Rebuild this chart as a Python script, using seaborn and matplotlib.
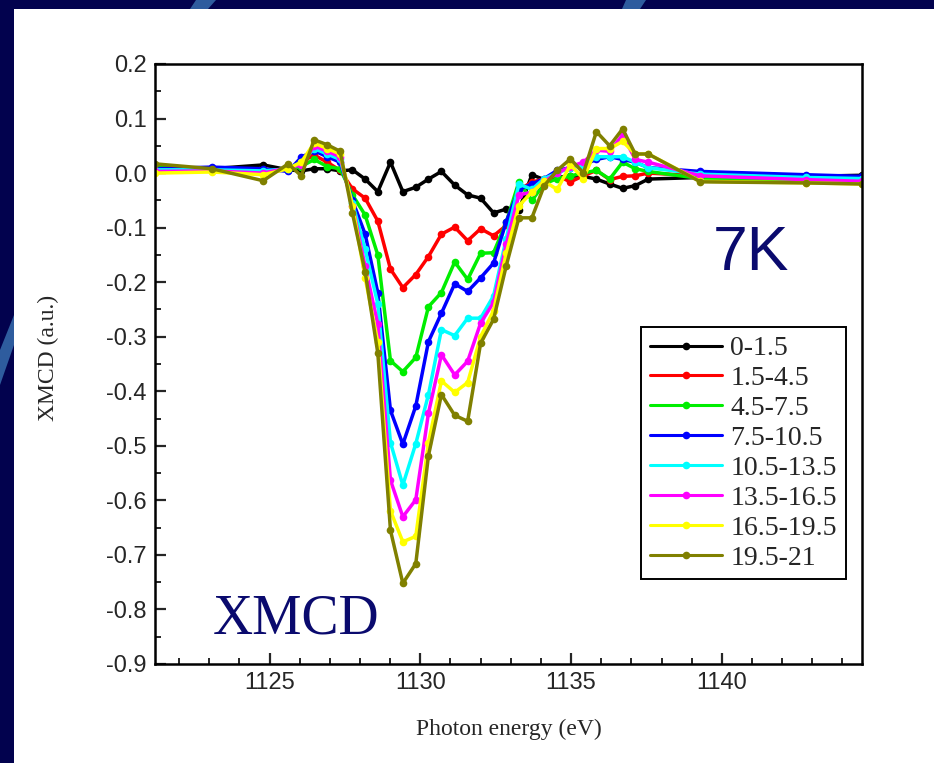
import numpy as np
import pandas as pd
import matplotlib
matplotlib.use("Agg")
import matplotlib.pyplot as plt
import matplotlib.patches as mpatches
from matplotlib.ticker import MultipleLocator
import seaborn as sns

energy = [1121.2, 1123.08, 1124.79, 1125.62, 1126.05, 1126.48, 1126.91, 1127.34, 1127.75, 1128.17,
          1128.59, 1129.01, 1129.42, 1129.85, 1130.27, 1130.70, 1131.14, 1131.57, 1132.00, 1132.43,
          1132.85, 1133.27, 1133.70, 1134.11, 1134.54, 1134.98, 1135.41, 1135.84, 1136.28, 1136.71,
          1137.13, 1137.56, 1139.29, 1142.79, 1144.65]

s_0_1_5 = [0.008, 0.008, 0.015, 0.006, 0.004, 0.008, 0.008, 0.004, 0.006, -0.011,
           -0.034, 0.020, -0.034, -0.026, -0.011, 0.003, -0.022, -0.040, -0.046, -0.073,
           -0.066, -0.068, -0.003, -0.012, -0.008, -0.005, -0.006, -0.011, -0.020, -0.028,
           -0.023, -0.011, -0.008, -0.006, -0.004]
s_1_5_4_5 = [0.005, 0.005, 0.003, 0.006, 0.020, 0.033, 0.020, 0.005, -0.029, -0.046,
             -0.088, -0.176, -0.210, -0.186, -0.153, -0.112, -0.099, -0.124, -0.102, -0.115,
             -0.096, -0.030, -0.017, -0.010, -0.005, -0.016, -0.005, 0.005, -0.012, -0.006,
             -0.005, 0.000, -0.005, -0.012, -0.015]
s_4_5_7_5 = [0.012, 0.008, 0.005, 0.006, 0.012, 0.025, 0.012, 0.008, -0.040, -0.077,
             -0.150, -0.344, -0.364, -0.338, -0.245, -0.219, -0.163, -0.195, -0.147, -0.146,
             -0.090, -0.016, -0.050, -0.020, -0.010, -0.005, 0.000, 0.005, -0.011, 0.020,
             0.008, 0.003, -0.010, -0.015, -0.018]
s_7_5_10_5 = [0.008, 0.011, 0.008, 0.003, 0.029, 0.041, 0.030, 0.020, -0.050, -0.112,
              -0.219, -0.435, -0.497, -0.427, -0.309, -0.257, -0.203, -0.217, -0.192, -0.165,
              -0.089, -0.030, -0.020, -0.010, 0.005, 0.010, 0.015, 0.025, 0.030, 0.025,
              0.020, 0.010, 0.003, -0.003, -0.006]
s_10_5_13_5 = [0.006, 0.006, 0.004, 0.008, 0.020, 0.045, 0.035, 0.025, -0.055, -0.140,
               -0.240, -0.494, -0.572, -0.496, -0.406, -0.287, -0.298, -0.266, -0.266, -0.225,
               -0.120, -0.020, -0.030, -0.010, 0.000, 0.010, 0.015, 0.030, 0.030, 0.030,
               0.020, 0.010, -0.002, -0.008, -0.010]
s_13_5_16_5 = [0.003, 0.004, 0.000, 0.010, 0.015, 0.050, 0.040, 0.030, -0.060, -0.171,
               -0.277, -0.563, -0.630, -0.599, -0.440, -0.333, -0.370, -0.345, -0.275, -0.237,
               -0.130, -0.040, -0.035, -0.015, 0.000, 0.012, 0.020, 0.042, 0.040, 0.070,
               0.025, 0.020, -0.005, -0.012, -0.015]
s_16_5_19_5 = [0.000, 0.002, -0.003, 0.008, 0.020, 0.055, 0.045, 0.035, -0.060, -0.192,
               -0.310, -0.619, -0.676, -0.666, -0.494, -0.381, -0.402, -0.384, -0.300, -0.252,
               -0.147, -0.060, -0.035, -0.015, -0.030, 0.015, -0.010, 0.045, 0.045, 0.058,
               0.035, 0.035, -0.015, -0.018, -0.020]
s_19_5_21 = [0.017, 0.008, -0.014, 0.017, -0.005, 0.061, 0.052, 0.040, -0.074, -0.181,
             -0.330, -0.655, -0.752, -0.716, -0.518, -0.406, -0.444, -0.455, -0.312, -0.268,
             -0.170, -0.082, -0.082, -0.023, 0.005, 0.026, 0.000, 0.076, 0.050, 0.081,
             0.035, 0.035, -0.016, -0.018, -0.020]

labels = ["0-1.5", "1.5-4.5", "4.5-7.5", "7.5-10.5", "10.5-13.5", "13.5-16.5", "16.5-19.5", "19.5-21"]
series = [s_0_1_5, s_1_5_4_5, s_4_5_7_5, s_7_5_10_5, s_10_5_13_5, s_13_5_16_5, s_16_5_19_5, s_19_5_21]
colors = ["#000000", "#FF0000", "#00EE00", "#0000FF", "#00FFFF", "#FF00FF", "#FFFF00", "#808000"]

df = pd.concat([pd.DataFrame({"energy": energy, "xmcd": s, "range": lab})
                for s, lab in zip(series, labels)], ignore_index=True)

sns.set_style("white")
plt.rcParams["font.family"] = ["Liberation Sans", "DejaVu Sans"]

fig = plt.figure(figsize=(9.34, 7.63), dpi=100)
fig.patch.set_facecolor("#02024E")
fig.add_artist(mpatches.Rectangle((14 / 934, 0), 1, 1 - 9 / 763, transform=fig.transFigure,
                                  facecolor="white", edgecolor="none", zorder=-5))
for poly in [[(196, 0), (216, 0), (208, 9), (190, 9)],
             [(626, 0), (646, 0), (640, 9), (622, 9)],
             [(14, 315), (14, 345), (0, 385), (0, 350)]]:
    fig.add_artist(mpatches.Polygon([(x / 934, 1 - y / 763) for x, y in poly], closed=True,
                                    transform=fig.transFigure, facecolor="#2E5C9E",
                                    edgecolor="none", zorder=-4))

ax = fig.add_axes([155 / 934, 1 - 664 / 763, 707 / 934, 600 / 763])
ax.set_facecolor("white")

sns.lineplot(data=df, x="energy", y="xmcd", hue="range", hue_order=labels, palette=colors,
             sort=False, estimator=None, marker="o", markersize=5.5, markeredgewidth=0,
             linewidth=2.5, ax=ax, legend=True)

ax.set_xlim(1121.2, 1144.65)
ax.set_ylim(-0.9, 0.2)
ax.xaxis.set_major_locator(MultipleLocator(5))
ax.xaxis.set_minor_locator(MultipleLocator(1))
ax.yaxis.set_major_locator(MultipleLocator(0.1))
ax.yaxis.set_minor_locator(MultipleLocator(0.05))
ax.yaxis.set_major_formatter(matplotlib.ticker.FuncFormatter(lambda v, p: f"{v:.1f}"))
ax.tick_params(which="major", direction="in", length=8, width=1.6, labelsize=17,
               bottom=True, left=True, top=False, right=False, pad=6)
ax.tick_params(which="minor", direction="in", length=4, width=1.4,
               bottom=True, left=True, top=False, right=False)
for sp in ax.spines.values():
    sp.set_color("black")
    sp.set_linewidth(1.8)

ax.set_xlabel("Photon energy (eV)", family="Liberation Serif", fontsize=17)
ax.set_ylabel("XMCD (a.u.)", family="Liberation Serif", fontsize=17, va="center")
ax.xaxis.set_label_coords(0.5, -0.092)
ax.yaxis.set_label_coords(-0.151, 0.51)

fig.text(751 / 934, 1 - 253 / 763, "7K", color="#0A0A6E", fontsize=45, ha="center", va="center",
         family="Liberation Sans")
fig.text(296 / 934, 1 - 620 / 763, "XMCD", color="#0A0A6E", fontsize=40, ha="center", va="center",
         family="Liberation Serif")

handles, labs = ax.get_legend_handles_labels()
for h in handles:
    h.set_linewidth(2.2)
leg = ax.legend(handles, labs, loc="upper left", bbox_to_anchor=(0.687, 0.5617),
                prop={"family": "Liberation Serif", "size": 20}, frameon=True, fancybox=False,
                edgecolor="black", framealpha=1, handlelength=2.6, handletextpad=0.3,
                labelspacing=0.16, borderpad=0.32, borderaxespad=0)
leg.get_frame().set_linewidth(1.4)

fig.savefig("out.png", dpi=100, facecolor=fig.get_facecolor())
